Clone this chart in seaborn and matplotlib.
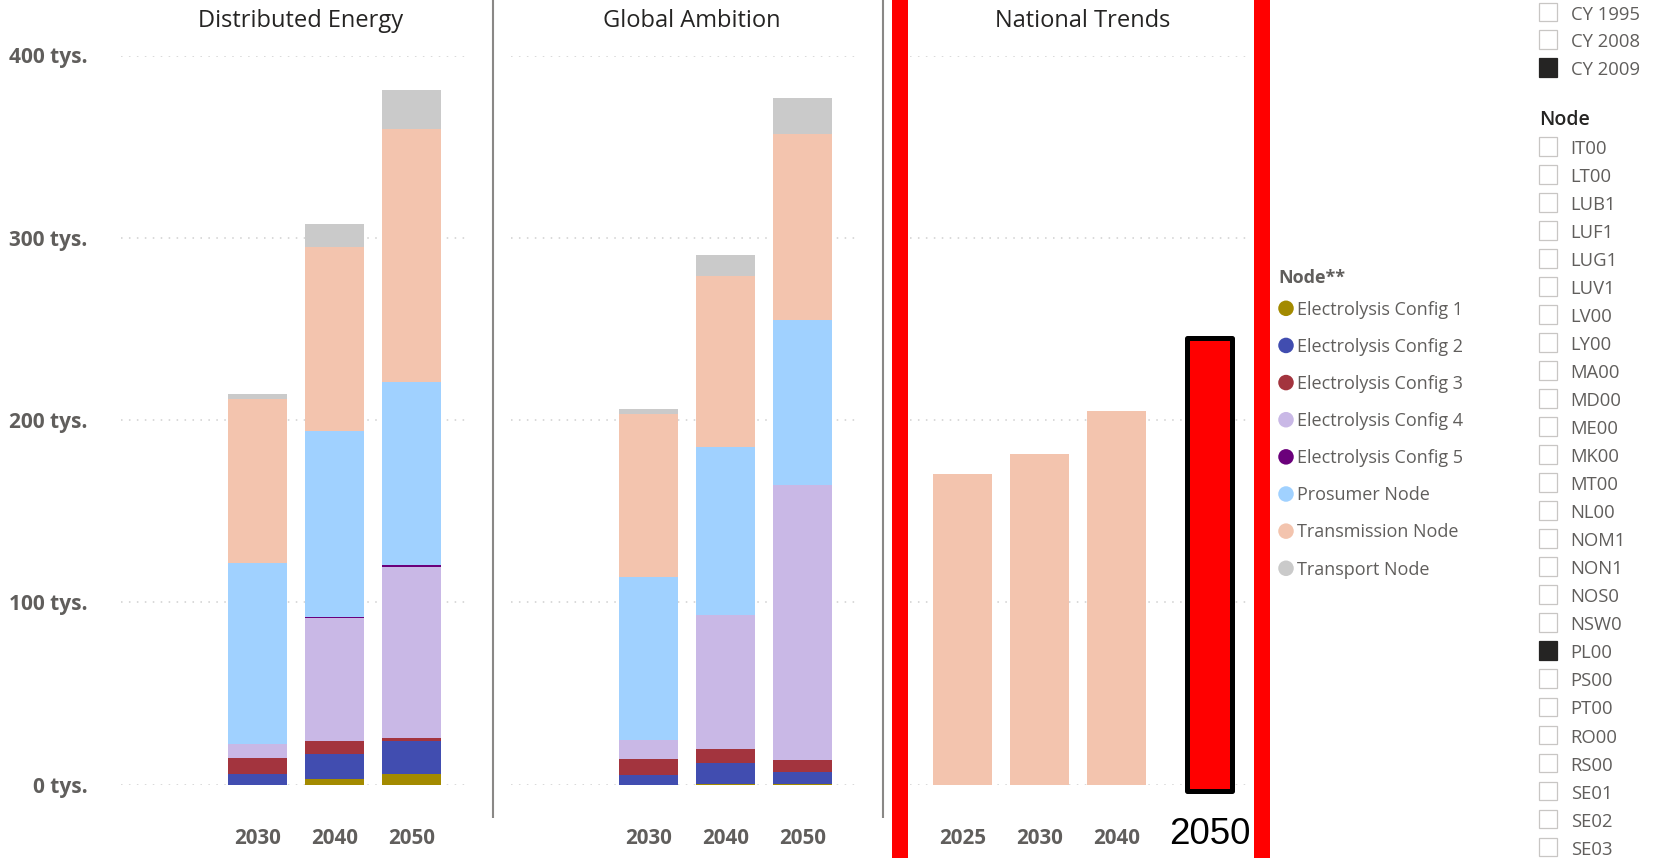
import matplotlib
matplotlib.use("Agg")
import matplotlib.pyplot as plt
from matplotlib.patches import Rectangle
import numpy as np
import pandas as pd
import seaborn as sns

# ---------------------------------------------------------------- data
years = ["2025", "2030", "2040", "2050"]
scenario_years = ["2030", "2040", "2050"]

nodes = ["Electrolysis Config 1", "Electrolysis Config 2", "Electrolysis Config 3",
         "Electrolysis Config 4", "Electrolysis Config 5", "Prosumer Node",
         "Transmission Node", "Transport Node"]
node_colors = ["#A38A00", "#414DB0", "#A3343E", "#C9B8E6",
               "#6B007B", "#A0D1FF", "#F3C4AE", "#CACACA"]

# Distributed Energy (thousands, "tys.")
de_config1 = [0.0, 2.9, 5.6]
de_config2 = [5.5, 14.1, 18.0]
de_config3 = [8.8, 6.9, 2.0]
de_config4 = [8.0, 67.3, 93.5]
de_config5 = [0.0, 0.5, 1.4]
de_prosumer = [99.2, 102.3, 100.6]
de_transmission = [89.8, 101.0, 138.6]
de_transport = [3.2, 12.4, 21.1]

# Global Ambition (thousands)
ga_config1 = [0.0, 0.4, 0.4]
ga_config2 = [5.2, 11.4, 6.6]
ga_config3 = [9.0, 7.6, 6.5]
ga_config4 = [10.3, 73.6, 151.1]
ga_config5 = [0.0, 0.0, 0.0]
ga_prosumer = [89.5, 92.0, 90.2]
ga_transmission = [89.3, 94.1, 102.3]
ga_transport = [2.9, 11.6, 19.6]

# National Trends (thousands), transmission node only
nt_years = ["2025", "2030", "2040"]
nt_transmission = [170.4, 181.6, 205.2]

y_ticks = [0, 100, 200, 300, 400]

climate_years = ["CY 1995", "CY 2008", "CY 2009"]
climate_selected = ["CY 2009"]
node_filter = ["IT00", "LT00", "LUB1", "LUF1", "LUG1", "LUV1", "LV00", "LY00",
               "MA00", "MD00", "ME00", "MK00", "MT00", "NL00", "NOM1", "NON1",
               "NOS0", "NSW0", "PL00", "PS00", "PT00", "RO00", "RS00", "SE01",
               "SE02", "SE03"]
node_selected = ["PL00"]

# ---------------------------------------------------------------- tidy table
rows = []
def add(scenario, yrs, series):
    for node, vals in zip(nodes, series):
        for yr, v in zip(yrs, vals):
            rows.append((scenario, yr, node, v))

add("Distributed Energy", scenario_years,
    [de_config1, de_config2, de_config3, de_config4, de_config5,
     de_prosumer, de_transmission, de_transport])
add("Global Ambition", scenario_years,
    [ga_config1, ga_config2, ga_config3, ga_config4, ga_config5,
     ga_prosumer, ga_transmission, ga_transport])
for yr, v in zip(nt_years, nt_transmission):
    rows.append(("National Trends", yr, "Transmission Node", v))

df = pd.DataFrame(rows, columns=["scenario", "year", "node", "value"])

# ---------------------------------------------------------------- style
sns.set_theme(style="white")
plt.rcParams["font.family"] = ["Open Sans", "DejaVu Sans"]

W, H = 1674, 858
fig = plt.figure(figsize=(W / 100, H / 100), dpi=100)
fig.patch.set_facecolor("white")

TICK_GRAY = "#605E5C"
TITLE_DARK = "#252423"
BAR_W = 0.766

y0_px, y400_px = 784.5, 55.5
ax_bottom = (H - y0_px) / H
ax_height = (y0_px - y400_px) / H

# (scenario, axes left px, axes right px, pixel of first category, title centre px)
panels = [
    ("Distributed Energy", 121, 468, 180.8, 301),
    ("Global Ambition", 511, 858, 571.5, 692),
    ("National Trends", 910, 1250, 962.3, 1083),
]
step_px = 77.0

axes = {}
for i, (name, left, right, c0, tx) in enumerate(panels):
    ax = fig.add_axes([left / W, ax_bottom, (right - left) / W, ax_height])
    sub = df[df["scenario"] == name]
    wide = (sub.pivot_table(index="year", columns="node", values="value",
                            aggfunc="sum")
               .reindex(columns=[n for n in nodes if n in set(sub["node"])]))
    cum = wide.cumsum(axis=1)
    # draw the running totals from the top segment down so each layer shows
    for node in reversed(list(cum.columns)):
        layer = cum[node].reset_index()
        layer.columns = ["year", "total"]
        sns.barplot(data=layer, x="year", y="total", order=years,
                    color=node_colors[nodes.index(node)], saturation=1,
                    width=BAR_W, errorbar=None, linewidth=0, ax=ax)
    ax.set_xlim(-(c0 - left) / step_px, (right - c0) / step_px)
    ax.set_ylim(0, 400)
    ax.set_yticks(y_ticks)
    ax.yaxis.grid(True, color="#CFCFCF", linestyle=(0, (1, 4.2)), linewidth=1.1)
    ax.set_axisbelow(True)
    sns.despine(ax=ax, left=True, bottom=True)
    ax.set_xlabel("")
    ax.set_ylabel("")
    ax.patch.set_alpha(0)
    ax.tick_params(axis="both", length=0)
    if i == 0:
        ax.set_yticklabels([f"{t} tys." for t in y_ticks], fontsize=15,
                           fontweight="bold", color=TICK_GRAY)
        ax.tick_params(axis="y", pad=24)
    else:
        ax.set_yticklabels([])
    present = [y for y in years if y in set(sub["year"])]
    ax.set_xticks([years.index(y) for y in present])
    ax.set_xticklabels(present, fontsize=14.8, fontweight="bold", color=TICK_GRAY)
    ax.tick_params(axis="x", pad=31)
    fig.text(tx / W, 1 - 21 / H, name, ha="center", va="center",
             fontsize=17, fontweight="medium", color=TITLE_DARK)
    axes[name] = ax

# highlight around the final National Trends year
nt_ax = axes["National Trends"]
nt_ax.add_patch(Rectangle((2.916, -3.8), 0.593, 248.7, facecolor="#FF0000",
                          edgecolor="black", linewidth=3.6, joinstyle="round",
                          clip_on=False, zorder=5))

# ---------------------------------------------------------------- page layer
ov = fig.add_axes([0, 0, 1, 1], zorder=10)
ov.set_xlim(0, W)
ov.set_ylim(H, 0)
ov.axis("off")

# panel separators
for sx in (493, 883):
    ov.plot([sx, sx], [0, 818], color="#8A8886", linewidth=1.5,
            solid_capstyle="butt")

# red frame bars
for bx0, bx1 in ((892, 908), (1254, 1270.5)):
    ov.add_patch(Rectangle((bx0, 0), bx1 - bx0, H, facecolor="#FF0000",
                           edgecolor="none"))

ov.text(1209.7, 843.5, "2050", ha="center", va="baseline", fontsize=26.5,
        color="black", family=["Liberation Sans", "DejaVu Sans"])

# legend
ov.text(1278, 283.3, "Node**", ha="left", va="baseline", fontsize=13,
        fontweight="bold", color=TICK_GRAY)
for k, (node, col) in enumerate(zip(nodes, node_colors)):
    cy = 308.3 + 37.14 * k
    ov.scatter([1286], [cy], s=125, color=col, edgecolors="none")
    ov.text(1297.3, cy + 6.3, node, ha="left", va="baseline", fontsize=13,
            color=TICK_GRAY)

# slicers
def checkbox(cy, label, checked):
    ov.add_patch(Rectangle((1538.8, cy - 9.2), 18.6, 18.4,
                           facecolor="#252423" if checked else "white",
                           edgecolor="#252423" if checked else "#C8C6C4",
                           linewidth=0.9))
    ov.text(1570.7, cy + 7.8, label, ha="left", va="baseline", fontsize=13.3,
            color=TICK_GRAY)

for k, lab in enumerate(climate_years):
    checkbox(11.7 + 27.9 * k, lab, lab in climate_selected)

ov.text(1539.3, 125, "Node", ha="left", va="baseline", fontsize=14,
        fontweight="semibold", color=TITLE_DARK)
for k, lab in enumerate(node_filter):
    checkbox(146.5 + 28.01 * k, lab, lab in node_selected)

fig.savefig("out.png", dpi=100)
